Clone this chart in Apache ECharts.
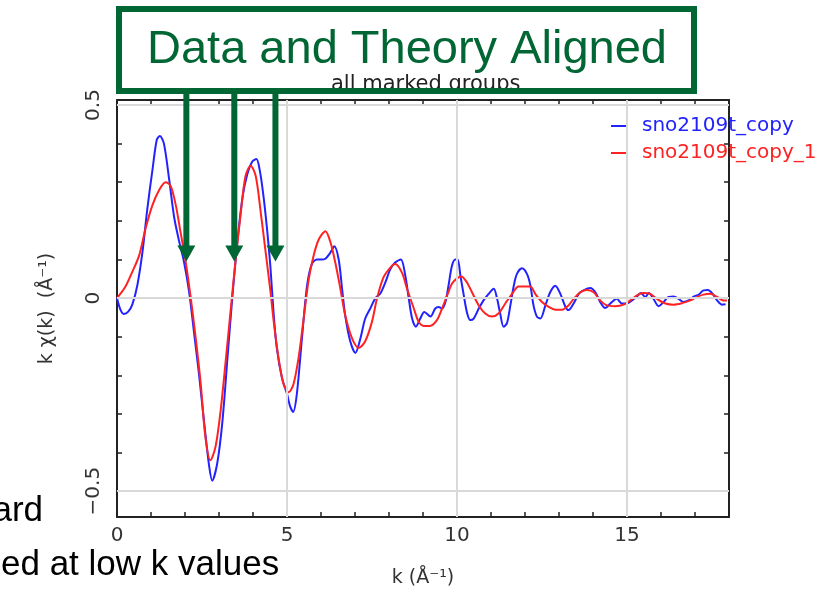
<!DOCTYPE html>
<html>
<head>
<meta charset="utf-8">
<script src="https://cdn.jsdelivr.net/npm/echarts@6/dist/echarts.min.js"></script>
<style>
html,body{margin:0;padding:0;background:#ffffff;}
#chart{width:829px;height:593px;}
</style>
</head>
<body>
<div id="chart"></div>
<script>
// ---- data (k in 1/Å, k·chi(k)) ----
const seriesNames = ['sno2109t_copy', 'sno2109t_copy_1'];

const blueK = [0,0.1,0.2,0.33,0.45,0.6,0.75,0.89,1.04,1.17,1.26,1.38,1.53,1.68,1.82,1.97,2.12,2.26,2.41,2.56,2.71,2.8,2.95,3.1,3.25,3.39,3.54,3.69,3.83,3.98,4.1,4.2,4.3,4.4,4.51,4.61,4.7,4.85,5.0,5.09,5.18,5.29,5.44,5.59,5.73,5.88,6.0,6.13,6.27,6.39,6.52,6.62,6.71,6.86,7.01,7.16,7.3,7.45,7.6,7.74,7.89,8.04,8.18,8.35,8.48,8.58,8.68,8.79,8.92,9.04,9.22,9.36,9.46,9.56,9.66,9.75,9.85,9.95,10.02,10.1,10.2,10.29,10.39,10.49,10.64,10.78,10.93,11.08,11.18,11.27,11.37,11.47,11.57,11.67,11.76,11.91,12.06,12.16,12.25,12.35,12.45,12.6,12.74,12.89,13.04,13.19,13.28,13.43,13.58,13.72,13.92,14.07,14.21,14.36,14.51,14.7,14.85,15.0,15.15,15.29,15.41,15.54,15.64,15.78,15.93,16.08,16.22,16.37,16.52,16.66,16.81,16.96,17.11,17.25,17.38,17.52,17.65,17.79,17.9];
const blueV = [0,-0.03,-0.041,-0.035,-0.017,0.034,0.12,0.23,0.33,0.41,0.42,0.40,0.31,0.21,0.15,0.094,0.017,-0.085,-0.196,-0.32,-0.435,-0.473,-0.427,-0.32,-0.154,0,0.145,0.26,0.32,0.354,0.36,0.33,0.27,0.19,0.083,-0.044,-0.129,-0.206,-0.248,-0.28,-0.295,-0.248,-0.104,0.032,0.088,0.10,0.10,0.102,0.117,0.134,0.10,0.024,-0.044,-0.112,-0.142,-0.104,-0.053,-0.027,0,0.011,0.04,0.075,0.092,0.10,0.058,0,-0.053,-0.074,-0.053,-0.036,-0.048,-0.027,-0.023,-0.027,-0.01,0.032,0.083,0.10,0.10,0.058,0.007,-0.036,-0.057,-0.053,-0.027,-0.006,0.011,0.024,-0.002,-0.04,-0.074,-0.065,-0.019,0.032,0.062,0.077,0.062,0.032,-0.019,-0.048,-0.053,-0.019,0.015,0.032,0.011,-0.023,-0.031,-0.014,0.011,0.02,0.026,0.015,-0.01,-0.026,-0.014,-0.002,-0.014,-0.014,-0.006,0.004,0.013,0.003,0.013,-0.002,-0.021,-0.01,0.003,0.004,-0.002,-0.01,-0.006,0.004,0.009,0.02,0.021,0.011,-0.006,-0.017,-0.016];

const redK = [0,0.25,0.45,0.65,0.84,1.04,1.24,1.43,1.58,1.73,1.87,2.02,2.17,2.31,2.46,2.6,2.75,2.9,3.05,3.2,3.34,3.49,3.64,3.78,3.93,4.08,4.23,4.37,4.51,4.61,4.75,4.9,5.05,5.19,5.34,5.49,5.64,5.78,5.93,6.13,6.27,6.42,6.57,6.71,6.91,7.11,7.3,7.5,7.65,7.84,8.04,8.18,8.38,8.53,8.73,8.87,9.02,9.2,9.41,9.56,9.71,9.85,10.0,10.13,10.29,10.44,10.64,10.83,11.03,11.22,11.42,11.62,11.81,12.01,12.16,12.3,12.5,12.7,12.89,13.09,13.28,13.43,13.63,13.82,14.02,14.21,14.41,14.66,14.9,15.1,15.29,15.49,15.68,15.88,16.13,16.37,16.62,16.86,17.06,17.25,17.45,17.65,17.84,17.94];
const redV = [0,0.03,0.068,0.11,0.18,0.24,0.28,0.30,0.29,0.24,0.17,0.094,0,-0.10,-0.22,-0.36,-0.42,-0.384,-0.29,-0.16,-0.034,0.10,0.22,0.316,0.343,0.316,0.22,0.12,0.02,-0.061,-0.155,-0.223,-0.244,-0.223,-0.155,-0.053,0.049,0.109,0.151,0.173,0.147,0.092,0.024,-0.044,-0.104,-0.129,-0.112,-0.061,0,0.054,0.079,0.088,0.066,0.024,-0.027,-0.061,-0.072,-0.072,-0.057,-0.027,0.007,0.037,0.051,0.056,0.041,0.015,-0.019,-0.04,-0.048,-0.04,-0.014,0.011,0.03,0.03,0.03,0.011,-0.01,-0.023,-0.03,-0.03,-0.019,-0.002,0.015,0.021,0.015,-0.006,-0.019,-0.021,-0.017,-0.006,0.007,0.013,0.011,-0.002,-0.014,-0.017,-0.013,-0.006,0.003,0.009,0.011,0.003,-0.006,-0.006];

// axis ticks / labels
const xMin = 0, xMax = 18;
const yMin = -0.567, yMax = 0.513;
const xMajor = [0, 5, 10, 15];
const xMinor = [0,1,2,3,4,5,6,7,8,9,10,11,12,13,14,15,16,17,18];
const yMajor = [-0.5, 0, 0.5];
const yMinor = [-0.5,-0.4,-0.3,-0.2,-0.1,0,0.1,0.2,0.3,0.4,0.5];
const xGridLines = [5, 10, 15];
const yGridLines = [-0.5, 0, 0.5];

// annotation arrows (k position, k·chi value at the arrow tip)
const arrowK = [2.04, 3.45, 4.66];
const arrowTipV = 0.095;

const chartTitle = 'all marked groups';
const xName = 'k (Å\u207B\u00B9)';
const yName = 'k \u03C7(k)  (Å\u207B\u00B9)';
const boxText = 'Data and Theory Aligned';
const sideText1 = 'ard';
const sideText2 = 'ed at low k values';

// ---- chart ----
const FONT = 'DejaVu Sans';
const AX = '#222222';
const GREEN = '#006633';
const chart = echarts.init(document.getElementById('chart'), null, {renderer: 'canvas'});

function xAx(pos, major) {
  return {
    type: 'value', position: pos, min: xMin, max: xMax, gridIndex: 0,
    axisLine: {show: major, onZero: false, lineStyle: {color: AX, width: 2}},
    axisTick: {show: true, inside: true, length: major ? 10 : 5, customValues: major ? xMajor : xMinor,
               lineStyle: {color: AX, width: 1.5}},
    axisLabel: {show: major && pos === 'bottom', customValues: xMajor, margin: 9,
                fontFamily: FONT, fontSize: 20, color: '#333'},
    splitLine: {show: false},
    name: (major && pos === 'bottom') ? xName : '',
    nameLocation: 'middle', nameGap: 52,
    nameTextStyle: {fontFamily: FONT, fontSize: 19, color: '#333'}
  };
}
function yAx(pos, major) {
  return {
    type: 'value', position: pos, min: yMin, max: yMax, gridIndex: 0,
    axisLine: {show: major, onZero: false, lineStyle: {color: AX, width: 2}},
    axisTick: {show: true, inside: true, length: major ? 11 : 5, customValues: major ? yMajor : yMinor,
               lineStyle: {color: AX, width: 1.5}},
    axisLabel: {show: major && pos === 'left', customValues: yMajor, rotate: 90, margin: 13,
                fontFamily: FONT, fontSize: 20, color: '#333',
                formatter: v => v < 0 ? '\u2212' + Math.abs(v) : String(v)},
    splitLine: {show: false},
    name: (major && pos === 'left') ? yName : '',
    nameLocation: 'middle', nameGap: 60,
    nameTextStyle: {fontFamily: FONT, fontSize: 19, color: '#333'}
  };
}

const gridMarks = xGridLines.map(v => ({xAxis: v})).concat(yGridLines.map(v => ({yAxis: v})));

const option = {
  animation: false,
  backgroundColor: '#ffffff',
  title: {
    text: chartTitle, left: 326, top: 69,
    textStyle: {fontFamily: FONT, fontSize: 21, fontWeight: 'normal', color: '#222'}
  },
  grid: {left: 117, right: 100, top: 100, bottom: 72, containLabel: false},
  legend: {
    orient: 'vertical', left: 606, top: 111, itemWidth: 16, itemHeight: 2, itemGap: 7,
    icon: 'rect',
    textStyle: {fontFamily: FONT, fontSize: 20, padding: [0, 0, 0, 10]},
    data: [
      {name: seriesNames[0], textStyle: {color: '#2222ff'}},
      {name: seriesNames[1], textStyle: {color: '#ff2222'}}
    ]
  },
  xAxis: [xAx('bottom', true), xAx('bottom', false), xAx('top', true), xAx('top', false)],
  yAxis: [yAx('left', true), yAx('left', false), yAx('right', true), yAx('right', false)],
  series: [
    {
      type: 'line', name: '__grid', data: [], xAxisIndex: 0, yAxisIndex: 0, z: 1, silent: true,
      markLine: {silent: true, symbol: ['none', 'none'], label: {show: false},
                 lineStyle: {color: '#d9d9d9', width: 2, type: 'solid'}, data: gridMarks}
    },
    {
      type: 'line', name: seriesNames[0], xAxisIndex: 0, yAxisIndex: 0, z: 3,
      data: blueK.map((k, i) => [k, blueV[i]]),
      showSymbol: false, smooth: 0.3, color: '#2222ff',
      lineStyle: {color: '#2222ff', width: 2}
    },
    {
      type: 'line', name: seriesNames[1], xAxisIndex: 0, yAxisIndex: 0, z: 4,
      data: redK.map((k, i) => [k, redV[i]]),
      showSymbol: false, smooth: 0.3, color: '#ff2222',
      lineStyle: {color: '#ff2222', width: 2}
    }
  ]
};
chart.setOption(option);

// ---- annotations (box, arrows, cut-off slide text) ----
const gfx = [
  {type: 'rect', z: 100, shape: {x: 119, y: 9, width: 575, height: 82},
   style: {fill: 'none', stroke: GREEN, lineWidth: 6}},
  {type: 'text', z: 101, style: {text: boxText, x: 407, y: 50, align: 'center', verticalAlign: 'middle',
   font: '47px "Liberation Sans", Arial, sans-serif', fill: GREEN}},
  {type: 'text', z: 101, style: {text: sideText1, x: 43, y: 511, align: 'right', verticalAlign: 'middle',
   font: '35px "Liberation Sans", Arial, sans-serif', fill: '#000'}},
  {type: 'text', z: 101, style: {text: sideText2, x: 1, y: 565, align: 'left', verticalAlign: 'middle',
   font: '35px "Liberation Sans", Arial, sans-serif', fill: '#000'}}
];
arrowK.forEach(k => {
  const p = chart.convertToPixel({seriesIndex: 1}, [k, arrowTipV]);
  const headH = 16, headW = 9;
  gfx.push({type: 'line', z: 100, shape: {x1: p[0], y1: 91, x2: p[0], y2: p[1] - headH + 1},
            style: {stroke: GREEN, lineWidth: 6}});
  gfx.push({type: 'polygon', z: 100, shape: {points: [[p[0] - headW, p[1] - headH], [p[0] + headW, p[1] - headH], [p[0], p[1]]]},
            style: {fill: GREEN}});
});
chart.setOption({graphic: gfx});
</script>
</body>
</html>
